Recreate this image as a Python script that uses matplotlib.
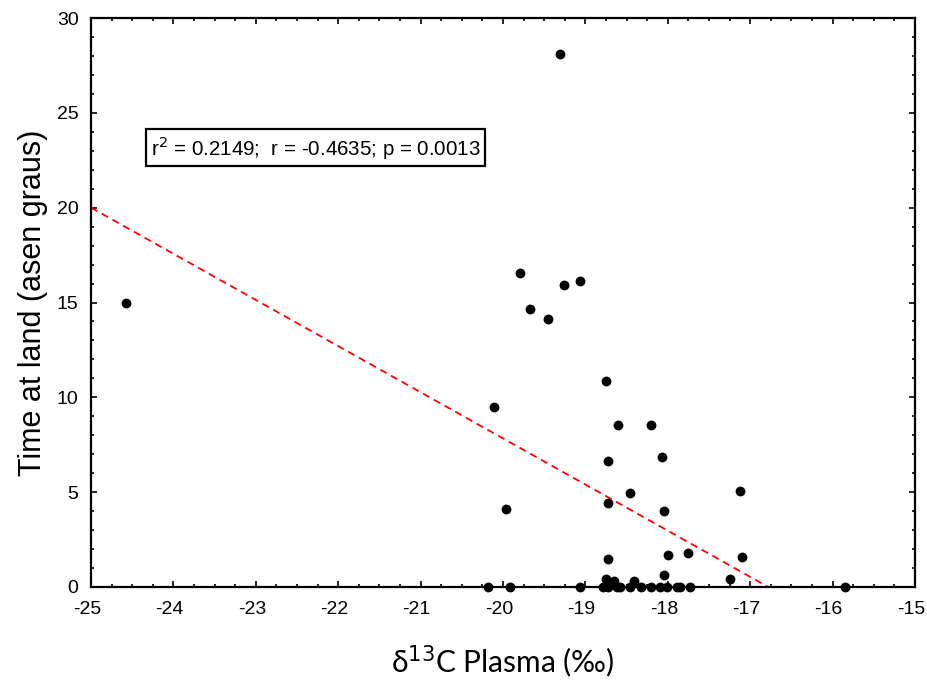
import numpy as np
import matplotlib
matplotlib.use("Agg")
import matplotlib.pyplot as plt
import matplotlib.transforms as mtransforms
from matplotlib.ticker import MultipleLocator

plt.rcParams["axes.unicode_minus"] = False
plt.rcParams["font.family"] = ["Liberation Sans", "DejaVu Sans"]

# Data
x_nonzero = [-24.57, -19.31, -19.79, -19.67, -19.45, -19.26, -19.07,
             -18.75, -20.11, -18.60, -18.20, -18.73, -18.07, -18.46,
             -18.73, -19.96, -18.04, -17.12, -18.73, -18.00, -17.75,
             -17.10, -18.04, -17.24, -18.75, -18.65, -18.41]
y_nonzero = [15.0, 28.1, 16.55, 14.65, 14.13, 15.92, 16.13,
             10.86, 9.49, 8.52, 8.52, 6.63, 6.85, 4.94,
             4.41, 4.11, 4.0, 5.06, 1.48, 1.69, 1.79,
             1.6, 0.63, 0.41, 0.42, 0.32, 0.32]
x_zero = [-20.18, -19.92, -19.07, -18.79, -18.72, -18.62, -18.58, -18.46,
          -18.32, -18.20, -18.09, -18.01, -17.89, -17.85, -17.73, -15.85]

fit_intercept_at_x0 = 20.0   # y value of regression line at x = -25
fit_x_zero = -16.78          # x where regression line reaches 0

x_ticks = [-25, -24, -23, -22, -21, -20, -19, -18, -17, -16, -15]
y_ticks = [0, 5, 10, 15, 20, 25, 30]

stats_text = r"r$^2$ = 0.2149;  r = -0.4635; p = 0.0013"

x_all = np.array(x_nonzero + x_zero)
y_all = np.array(y_nonzero + [0.0] * len(x_zero))

fig = plt.figure(figsize=(9.27, 6.82), dpi=100)
ax = fig.add_axes([0.0982, 0.1393, 0.8888, 0.8343])

ax.set_xlim(-25, -15)
ax.set_ylim(0, 30)

# regression line
slope = (0 - fit_intercept_at_x0) / (fit_x_zero - (-25))
xl = np.array([-25, fit_x_zero])
yl = fit_intercept_at_x0 + slope * (xl + 25)
ax.plot(xl, yl, color="red", linestyle=(0, (4, 2.8)), linewidth=1.3, zorder=2)

ax.scatter(x_all, y_all, s=50, color="black", zorder=3, clip_on=False,
           linewidths=0)

ax.set_xticks(x_ticks)
ax.set_xticklabels([str(t) for t in x_ticks], fontsize=14,
                   family="Liberation Sans")
ax.set_yticks(y_ticks)
ax.set_yticklabels([str(t) for t in y_ticks], fontsize=14,
                   family="Liberation Sans")
ax.xaxis.set_minor_locator(MultipleLocator(0.25))
ax.yaxis.set_minor_locator(MultipleLocator(1))
ax.tick_params(which="both", direction="in", top=True, right=True,
               width=1.2, colors="black")
ax.tick_params(which="major", length=4)
ax.tick_params(axis="x", which="major", pad=10)
ax.tick_params(axis="y", which="major", pad=9)
ax.tick_params(which="minor", length=2.5)
for sp in ax.spines.values():
    sp.set_linewidth(1.6)

shift = mtransforms.ScaledTranslation(-4 / 100, 0, fig.dpi_scale_trans)
for lab in ax.get_xticklabels():
    lab.set_transform(lab.get_transform() + shift)

ax.set_ylabel("Time at land (asen graus)", fontsize=22,
              family="Liberation Sans", labelpad=6)
ax.set_xlabel(r"δ$^{13}$C Plasma (‰)", fontsize=21.5, family="Lato", labelpad=18)

ax.text(0.0725, 0.772, stats_text, transform=ax.transAxes, fontsize=14.8,
        family="Liberation Sans", va="center", ha="left",
        bbox=dict(boxstyle="square,pad=0.22", facecolor="white",
                  edgecolor="black", linewidth=1.6))

fig.savefig("out.png", dpi=100)
